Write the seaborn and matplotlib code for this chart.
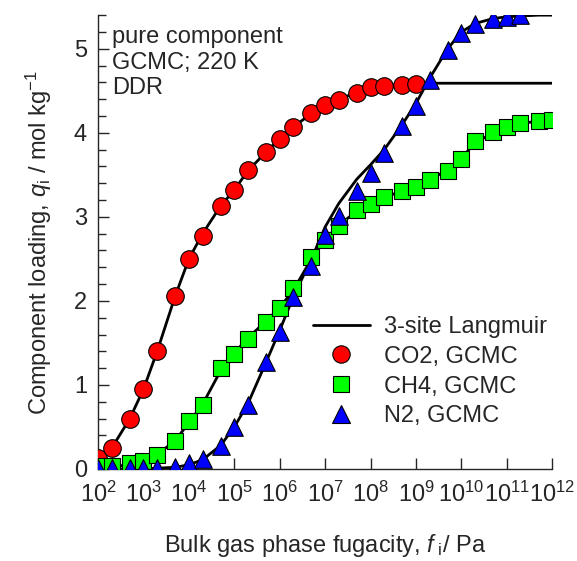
import numpy as np
import pandas as pd
import matplotlib
matplotlib.use("Agg")
import matplotlib.pyplot as plt
import seaborn as sns
from matplotlib.lines import Line2D
from matplotlib.ticker import FixedLocator, MultipleLocator, NullLocator

# fugacity grid (Pa) used by the GCMC points and the fitted curves
f_grid = [1e2, 2e2, 5e2, 1e3, 2e3, 5e3, 1e4, 2e4, 5e4, 1e5, 2e5, 5e5,
          1e6, 2e6, 5e6, 1e7, 2e7, 5e7, 1e8, 2e8, 5e8, 1e9, 2e9, 5e9,
          1e10, 2e10, 5e10, 1e11, 2e11, 5e11, 1e12]

# GCMC data (mol/kg)
co2_f = f_grid[:22]
co2_q = [0.13, 0.25, 0.60, 0.95, 1.40, 2.06, 2.50, 2.77, 3.13, 3.32, 3.56, 3.77,
         3.93, 4.07, 4.24, 4.33, 4.39, 4.47, 4.54, 4.56, 4.57, 4.58]
ch4_f = f_grid
ch4_q = [0.03, 0.03, 0.07, 0.10, 0.17, 0.33, 0.57, 0.76, 1.20, 1.37, 1.55, 1.75,
         1.91, 2.15, 2.52, 2.73, 2.89, 3.08, 3.15, 3.24, 3.31, 3.36, 3.44, 3.55,
         3.69, 3.90, 4.01, 4.07, 4.12, 4.14, 4.15]
n2_f = f_grid[:29]
n2_q = [0.01, 0.01, 0.01, 0.01, 0.01, 0.02, 0.07, 0.12, 0.27, 0.50, 0.76, 1.27,
        1.63, 2.05, 2.41, 2.79, 3.01, 3.31, 3.52, 3.76, 4.08, 4.32, 4.63, 4.99,
        5.19, 5.30, 5.36, 5.38, 5.40]

# 3-site Langmuir fit curves
co2_fit = [0.10, 0.25, 0.60, 0.95, 1.40, 2.06, 2.50, 2.80, 3.13, 3.32, 3.55, 3.77,
           3.93, 4.07, 4.23, 4.33, 4.40, 4.48, 4.53, 4.56, 4.58, 4.59, 4.59, 4.59,
           4.59, 4.59, 4.59, 4.59, 4.59, 4.59, 4.59]
ch4_fit = [0.02, 0.03, 0.05, 0.09, 0.17, 0.34, 0.55, 0.77, 1.17, 1.38, 1.56, 1.76,
           1.92, 2.13, 2.50, 2.73, 2.90, 3.07, 3.15, 3.23, 3.31, 3.37, 3.44, 3.56,
           3.70, 3.88, 4.00, 4.07, 4.11, 4.14, 4.15]
n2_fit = [0.00, 0.00, 0.00, 0.00, 0.01, 0.02, 0.05, 0.11, 0.28, 0.50, 0.78, 1.27,
          1.65, 2.05, 2.50, 2.88, 3.16, 3.45, 3.62, 3.80, 4.10, 4.35, 4.65, 5.00,
          5.20, 5.30, 5.36, 5.38, 5.39, 5.40, 5.40]

sns.set_style("ticks")
plt.rcParams['font.family'] = ['Liberation Sans', 'DejaVu Sans']
plt.rcParams['mathtext.fontset'] = 'custom'
plt.rcParams['mathtext.rm'] = 'Liberation Sans'
plt.rcParams['mathtext.it'] = 'Liberation Sans:italic'
FS = 17

fig = plt.figure(figsize=(5.77, 5.61), dpi=100)
ax = fig.add_axes([0.170, 0.164, 0.787, 0.809])
ax.set_xscale('log')

fit_df = pd.DataFrame({'f': f_grid * 3,
                       'q': co2_fit + ch4_fit + n2_fit,
                       'gas': ['CO2'] * 31 + ['CH4'] * 31 + ['N2'] * 31})
for gas in ['CO2', 'CH4', 'N2']:
    sns.lineplot(data=fit_df[fit_df.gas == gas], x='f', y='q', color='black',
                 linewidth=2.0, ax=ax, legend=False, zorder=2)

sns.scatterplot(x=co2_f, y=co2_q, marker='o', s=160, color='#ff0000',
                edgecolor='black', linewidth=0.8, ax=ax, zorder=3)
sns.scatterplot(x=ch4_f, y=ch4_q, marker='s', s=120, color='#00ff00',
                edgecolor='black', linewidth=0.8, ax=ax, zorder=3)
sns.scatterplot(x=n2_f, y=n2_q, marker='^', s=160, color='#0000ff',
                edgecolor='black', linewidth=0.8, ax=ax, zorder=4)

ax.set_xlim(1e2, 1e12)
ax.set_ylim(0, 5.4)
xt = [10.0 ** k for k in range(2, 13)]
ax.xaxis.set_major_locator(FixedLocator(xt))
ax.xaxis.set_minor_locator(NullLocator())
ax.set_xticklabels([r'$\mathregular{10^{%d}}$' % k for k in range(2, 13)], fontsize=FS)
ax.yaxis.set_major_locator(MultipleLocator(1))
ax.yaxis.set_minor_locator(MultipleLocator(0.2))
ax.tick_params(axis='both', which='major', direction='in', length=8, width=1,
               labelsize=FS)
ax.tick_params(axis='x', which='major', pad=9)
ax.tick_params(axis='y', which='major', pad=8)
ax.tick_params(axis='y', which='minor', direction='in', length=6, width=1)
for s in ['left', 'bottom']:
    ax.spines[s].set_linewidth(1)
sns.despine(ax=ax)

ax.set_xlabel(r'Bulk gas phase fugacity, $\it{f}_\mathregular{\ i}$/ Pa', fontsize=FS, labelpad=18)
ax.set_ylabel(r'Component loading, $\it{q}_\mathregular{i}$ / mol kg$^\mathregular{-1}$',
              fontsize=FS, labelpad=14)

ax.text(0.03, 0.975, 'pure component\nGCMC; 220 K\nDDR', transform=ax.transAxes,
        ha='left', va='top', fontsize=FS, linespacing=1.2)

handles = [Line2D([], [], color='black', lw=2.0),
           Line2D([], [], ls='none', marker='o', ms=12.5, mfc='#ff0000', mec='black', mew=0.8),
           Line2D([], [], ls='none', marker='s', ms=11, mfc='#00ff00', mec='black', mew=0.8),
           Line2D([], [], ls='none', marker='^', ms=12.5, mfc='#0000ff', mec='black', mew=0.8)]
labels = ['3-site Langmuir', 'CO2, GCMC', 'CH4, GCMC', 'N2, GCMC']
ax.legend(handles, labels, loc='lower right', bbox_to_anchor=(1.035, 0.045), frameon=False,
          fontsize=FS, handlelength=2.4, handletextpad=0.6, labelspacing=0.33)

fig.savefig('out.png', dpi=100)
